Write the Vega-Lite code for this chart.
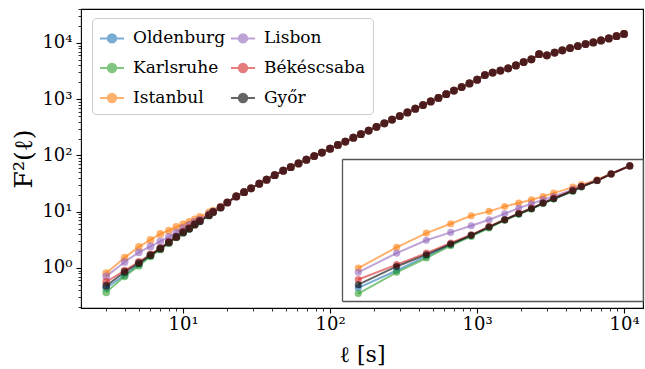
{
  "$schema": "https://vega.github.io/schema/vega-lite/v6.json",
  "width": 562,
  "height": 299,
  "autosize": {"type": "none"},
  "padding": {"left": 81, "top": 9, "right": 2, "bottom": 61},
  "config": {
    "font": "DejaVu Serif",
    "view": {"stroke": "#000", "strokeWidth": 1.1},
    "axis": {"grid": false, "labelColor": "#000", "titleColor": "#000", "tickColor": "#000", "titleFontWeight": "normal", "labelFont": "DejaVu Serif", "titleFont": "DejaVu Serif"}
  },
  "data": {"values": [
    {"l": 3, "Oldenburg": 0.44, "Karlsruhe": 0.37, "Istanbul": 0.81, "Lisbon": 0.71, "Békéscsaba": 0.57, "Győr": 0.485},
    {"l": 4, "Oldenburg": 0.75, "Karlsruhe": 0.71, "Istanbul": 1.53, "Lisbon": 1.28, "Békéscsaba": 0.9, "Győr": 0.85},
    {"l": 5, "Oldenburg": 1.16, "Karlsruhe": 1.1, "Istanbul": 2.37, "Lisbon": 1.9, "Békéscsaba": 1.28, "Győr": 1.22},
    {"l": 6, "Oldenburg": 1.66, "Karlsruhe": 1.61, "Istanbul": 3.16, "Lisbon": 2.42, "Békéscsaba": 1.75, "Győr": 1.69},
    {"l": 7, "Oldenburg": 2.19, "Karlsruhe": 2.14, "Istanbul": 4.04, "Lisbon": 2.97, "Békéscsaba": 2.25, "Győr": 2.21},
    {"l": 8, "Oldenburg": 2.83, "Karlsruhe": 2.77, "Istanbul": 4.62, "Lisbon": 3.57, "Békéscsaba": 2.91, "Győr": 2.85},
    {"l": 9, "Oldenburg": 3.55, "Karlsruhe": 3.52, "Istanbul": 5.38, "Lisbon": 4.29, "Békéscsaba": 3.57, "Győr": 3.57},
    {"l": 10, "Oldenburg": 4.27, "Karlsruhe": 4.24, "Istanbul": 5.96, "Lisbon": 5.11, "Békéscsaba": 4.38, "Győr": 4.29},
    {"l": 11, "Oldenburg": 5.0, "Karlsruhe": 4.97, "Istanbul": 6.6, "Lisbon": 5.84, "Békéscsaba": 5.11, "Győr": 5.0},
    {"l": 12, "Oldenburg": 5.93, "Karlsruhe": 5.9, "Istanbul": 7.31, "Lisbon": 6.6, "Békéscsaba": 5.96, "Győr": 5.96},
    {"l": 13, "Oldenburg": 6.8, "Karlsruhe": 6.75, "Istanbul": 8.1, "Lisbon": 7.3, "Békéscsaba": 6.95, "Győr": 6.81},
    {"l": 15, "Oldenburg": 8.6, "Karlsruhe": 8.6, "Istanbul": 9.74, "Lisbon": 9.1, "Békéscsaba": 8.8, "Győr": 8.7},
    {"l": 16, "Oldenburg": 9.8, "Karlsruhe": 9.75, "Istanbul": 10.5, "Lisbon": 10.1, "Békéscsaba": 9.9, "Győr": 9.9},
    {"l": 18, "Oldenburg": 11.9, "Karlsruhe": 11.85, "Istanbul": 12.2, "Lisbon": 12.0, "Békéscsaba": 11.9, "Győr": 11.9},
    {"l": 20, "Oldenburg": 14.6, "Karlsruhe": 14.6, "Istanbul": 14.7, "Lisbon": 14.7, "Békéscsaba": 14.6, "Győr": 14.6},
    {"l": 23, "Oldenburg": 18.7, "Karlsruhe": 18.7, "Istanbul": 18.7, "Lisbon": 18.7, "Békéscsaba": 18.7, "Győr": 18.7},
    {"l": 26, "Oldenburg": 22.3, "Karlsruhe": 22.3, "Istanbul": 22.3, "Lisbon": 22.3, "Békéscsaba": 22.3, "Győr": 22.3},
    {"l": 29, "Oldenburg": 26.1, "Karlsruhe": 26.1, "Istanbul": 26.1, "Lisbon": 26.1, "Békéscsaba": 26.1, "Győr": 26.1},
    {"l": 33, "Oldenburg": 31.6, "Karlsruhe": 31.6, "Istanbul": 31.6, "Lisbon": 31.6, "Békéscsaba": 31.6, "Győr": 31.6},
    {"l": 37, "Oldenburg": 37.2, "Karlsruhe": 37.2, "Istanbul": 37.2, "Lisbon": 37.2, "Békéscsaba": 37.2, "Győr": 37.2},
    {"l": 42, "Oldenburg": 44.7, "Karlsruhe": 44.7, "Istanbul": 44.7, "Lisbon": 44.7, "Békéscsaba": 44.7, "Győr": 44.7},
    {"l": 48, "Oldenburg": 53.7, "Karlsruhe": 53.7, "Istanbul": 53.7, "Lisbon": 53.7, "Békéscsaba": 53.7, "Győr": 53.7},
    {"l": 54, "Oldenburg": 62.1, "Karlsruhe": 62.1, "Istanbul": 62.1, "Lisbon": 62.1, "Békéscsaba": 62.1, "Győr": 62.1},
    {"l": 61, "Oldenburg": 72.2, "Karlsruhe": 72.2, "Istanbul": 72.2, "Lisbon": 72.2, "Békéscsaba": 72.2, "Győr": 72.2},
    {"l": 69, "Oldenburg": 84.1, "Karlsruhe": 84.1, "Istanbul": 84.1, "Lisbon": 84.1, "Békéscsaba": 84.1, "Győr": 84.1},
    {"l": 78, "Oldenburg": 97.7, "Karlsruhe": 97.7, "Istanbul": 97.7, "Lisbon": 97.7, "Békéscsaba": 97.7, "Győr": 97.7},
    {"l": 88, "Oldenburg": 113, "Karlsruhe": 113, "Istanbul": 113, "Lisbon": 113, "Békéscsaba": 113, "Győr": 113},
    {"l": 100, "Oldenburg": 132, "Karlsruhe": 132, "Istanbul": 132, "Lisbon": 132, "Békéscsaba": 132, "Győr": 132},
    {"l": 113, "Oldenburg": 154, "Karlsruhe": 154, "Istanbul": 154, "Lisbon": 154, "Békéscsaba": 154, "Győr": 154},
    {"l": 127, "Oldenburg": 177, "Karlsruhe": 177, "Istanbul": 177, "Lisbon": 177, "Békéscsaba": 177, "Győr": 177},
    {"l": 144, "Oldenburg": 207, "Karlsruhe": 207, "Istanbul": 207, "Lisbon": 207, "Békéscsaba": 207, "Győr": 207},
    {"l": 162, "Oldenburg": 239, "Karlsruhe": 239, "Istanbul": 239, "Lisbon": 239, "Békéscsaba": 239, "Győr": 239},
    {"l": 183, "Oldenburg": 277, "Karlsruhe": 277, "Istanbul": 277, "Lisbon": 277, "Békéscsaba": 277, "Győr": 277},
    {"l": 207, "Oldenburg": 323, "Karlsruhe": 323, "Istanbul": 323, "Lisbon": 323, "Békéscsaba": 323, "Győr": 323},
    {"l": 234, "Oldenburg": 374, "Karlsruhe": 374, "Istanbul": 374, "Lisbon": 374, "Békéscsaba": 374, "Győr": 374},
    {"l": 264, "Oldenburg": 435, "Karlsruhe": 435, "Istanbul": 435, "Lisbon": 435, "Békéscsaba": 435, "Győr": 435},
    {"l": 298, "Oldenburg": 503, "Karlsruhe": 503, "Istanbul": 503, "Lisbon": 503, "Békéscsaba": 503, "Győr": 503},
    {"l": 336, "Oldenburg": 583, "Karlsruhe": 583, "Istanbul": 583, "Lisbon": 583, "Békéscsaba": 583, "Győr": 583},
    {"l": 380, "Oldenburg": 679, "Karlsruhe": 679, "Istanbul": 679, "Lisbon": 679, "Békéscsaba": 679, "Győr": 679},
    {"l": 429, "Oldenburg": 786, "Karlsruhe": 786, "Istanbul": 786, "Lisbon": 786, "Békéscsaba": 786, "Győr": 786},
    {"l": 484, "Oldenburg": 912, "Karlsruhe": 912, "Istanbul": 912, "Lisbon": 912, "Békéscsaba": 912, "Győr": 912},
    {"l": 546, "Oldenburg": 1057, "Karlsruhe": 1057, "Istanbul": 1057, "Lisbon": 1057, "Békéscsaba": 1057, "Győr": 1057},
    {"l": 617, "Oldenburg": 1227, "Karlsruhe": 1227, "Istanbul": 1227, "Lisbon": 1227, "Békéscsaba": 1227, "Győr": 1227},
    {"l": 696, "Oldenburg": 1425, "Karlsruhe": 1425, "Istanbul": 1425, "Lisbon": 1425, "Békéscsaba": 1425, "Győr": 1425},
    {"l": 786, "Oldenburg": 1648, "Karlsruhe": 1648, "Istanbul": 1648, "Lisbon": 1648, "Békéscsaba": 1648, "Győr": 1648},
    {"l": 888, "Oldenburg": 1914, "Karlsruhe": 1914, "Istanbul": 1914, "Lisbon": 1914, "Békéscsaba": 1914, "Győr": 1914},
    {"l": 1002, "Oldenburg": 2223, "Karlsruhe": 2223, "Istanbul": 2223, "Lisbon": 2223, "Békéscsaba": 2223, "Győr": 2223},
    {"l": 1131, "Oldenburg": 2692, "Karlsruhe": 2692, "Istanbul": 2692, "Lisbon": 2692, "Békéscsaba": 2692, "Győr": 2692},
    {"l": 1277, "Oldenburg": 2985, "Karlsruhe": 2985, "Istanbul": 2985, "Lisbon": 2985, "Békéscsaba": 2985, "Győr": 2985},
    {"l": 1442, "Oldenburg": 3236, "Karlsruhe": 3236, "Istanbul": 3236, "Lisbon": 3236, "Békéscsaba": 3236, "Győr": 3236},
    {"l": 1628, "Oldenburg": 3548, "Karlsruhe": 3548, "Istanbul": 3548, "Lisbon": 3548, "Békéscsaba": 3548, "Győr": 3548},
    {"l": 1838, "Oldenburg": 3981, "Karlsruhe": 3981, "Istanbul": 3981, "Lisbon": 3981, "Békéscsaba": 3981, "Győr": 3981},
    {"l": 2075, "Oldenburg": 4571, "Karlsruhe": 4571, "Istanbul": 4571, "Lisbon": 4571, "Békéscsaba": 4571, "Győr": 4571},
    {"l": 2342, "Oldenburg": 5129, "Karlsruhe": 5129, "Istanbul": 5129, "Lisbon": 5129, "Békéscsaba": 5129, "Győr": 5129},
    {"l": 2644, "Oldenburg": 6310, "Karlsruhe": 6310, "Istanbul": 6310, "Lisbon": 6310, "Békéscsaba": 6310, "Győr": 6310},
    {"l": 2985, "Oldenburg": 6026, "Karlsruhe": 6026, "Istanbul": 6026, "Lisbon": 6026, "Békéscsaba": 6026, "Győr": 6026},
    {"l": 3370, "Oldenburg": 6761, "Karlsruhe": 6761, "Istanbul": 6761, "Lisbon": 6761, "Békéscsaba": 6761, "Győr": 6761},
    {"l": 3805, "Oldenburg": 7413, "Karlsruhe": 7413, "Istanbul": 7413, "Lisbon": 7413, "Békéscsaba": 7413, "Győr": 7413},
    {"l": 4295, "Oldenburg": 8128, "Karlsruhe": 8128, "Istanbul": 8128, "Lisbon": 8128, "Békéscsaba": 8128, "Győr": 8128},
    {"l": 4849, "Oldenburg": 8810, "Karlsruhe": 8810, "Istanbul": 8810, "Lisbon": 8810, "Békéscsaba": 8810, "Győr": 8810},
    {"l": 5474, "Oldenburg": 9550, "Karlsruhe": 9550, "Istanbul": 9550, "Lisbon": 9550, "Békéscsaba": 9550, "Győr": 9550},
    {"l": 6180, "Oldenburg": 10233, "Karlsruhe": 10233, "Istanbul": 10233, "Lisbon": 10233, "Békéscsaba": 10233, "Győr": 10233},
    {"l": 6977, "Oldenburg": 11092, "Karlsruhe": 11092, "Istanbul": 11092, "Lisbon": 11092, "Békéscsaba": 11092, "Győr": 11092},
    {"l": 7876, "Oldenburg": 12023, "Karlsruhe": 12023, "Istanbul": 12023, "Lisbon": 12023, "Békéscsaba": 12023, "Győr": 12023},
    {"l": 8892, "Oldenburg": 13183, "Karlsruhe": 13183, "Istanbul": 13183, "Lisbon": 13183, "Békéscsaba": 13183, "Győr": 13183},
    {"l": 10000, "Oldenburg": 14454, "Karlsruhe": 14454, "Istanbul": 14454, "Lisbon": 14454, "Békéscsaba": 14454, "Győr": 14454}
  ]},
  "transform": [
    {"fold": ["Oldenburg", "Karlsruhe", "Istanbul", "Lisbon", "Békéscsaba", "Győr"], "as": ["series", "F"]}
  ],
  "layer": [
    {
      "encoding": {
        "x": {
          "field": "l", "type": "quantitative",
          "scale": {"type": "log", "domain": [2.02, 13460], "nice": false},
          "axis": {
            "orient": "bottom", "domain": false,
            "values": [3,4,5,6,7,8,9,10,20,30,40,50,60,70,80,90,100,200,300,400,500,600,700,800,900,1000,2000,3000,4000,5000,6000,7000,8000,9000,10000],
            "labelExpr": "datum.value == 10 ? '10¹' : datum.value == 100 ? '10²' : datum.value == 1000 ? '10³' : datum.value == 10000 ? '10⁴' : ''",
            "tickSize": {"condition": {"test": "indexof([1,10,100,1000,10000], datum.value) >= 0", "value": 5}, "value": 3},
            "tickWidth": {"condition": {"test": "indexof([1,10,100,1000,10000], datum.value) >= 0", "value": 1.1}, "value": 0.8},
            "labelFontSize": 18, "labelPadding": 2, "labelFlush": false,
            "title": "ℓ [s]", "titleFontSize": 22, "titlePadding": 11
          }
        },
        "y": {
          "field": "F", "type": "quantitative",
          "scale": {"type": "log", "domain": [0.1945, 40200], "nice": false},
          "axis": {
            "orient": "left", "domain": false,
            "values": [0.2,0.3,0.4,0.5,0.6,0.7,0.8,0.9,1,2,3,4,5,6,7,8,9,10,20,30,40,50,60,70,80,90,100,200,300,400,500,600,700,800,900,1000,2000,3000,4000,5000,6000,7000,8000,9000,10000,20000,30000,40000],
            "labelExpr": "datum.value == 1 ? '10⁰' : datum.value == 10 ? '10¹' : datum.value == 100 ? '10²' : datum.value == 1000 ? '10³' : datum.value == 10000 ? '10⁴' : ''",
            "tickSize": {"condition": {"test": "indexof([1,10,100,1000,10000], datum.value) >= 0", "value": 5}, "value": 3},
            "tickWidth": {"condition": {"test": "indexof([1,10,100,1000,10000], datum.value) >= 0", "value": 1.1}, "value": 0.8},
            "labelFontSize": 18, "labelPadding": 4, "labelFlush": false,
            "title": "F²(ℓ)", "titleFontSize": 25, "titlePadding": 5
          }
        },
        "color": {
          "field": "series", "type": "nominal",
          "scale": {"domain": ["Oldenburg", "Karlsruhe", "Istanbul", "Lisbon", "Békéscsaba", "Győr"], "range": ["#1f77b4", "#2ca02c", "#ff7f0e", "#9467bd", "#d62728", "#000000"]},
          "legend": {
            "orient": "none", "legendX": 11, "legendY": 9, "columns": 2, "title": null,
            "values": ["Oldenburg", "Karlsruhe", "Istanbul", "Lisbon", "Békéscsaba", "Győr"],
            "symbolType": "M-1,0H1M0.35,0A0.35,0.35,0,1,1,-0.35,0A0.35,0.35,0,1,1,0.35,0Z",
            "symbolSize": 576, "symbolStrokeWidth": 2,
            "labelFont": "DejaVu Serif", "labelFontSize": 17, "labelColor": "#000", "labelOffset": 8,
            "padding": 7, "rowPadding": 8, "columnPadding": 1,
            "strokeColor": "#cccccc", "fillColor": "rgba(255,255,255,0.8)", "cornerRadius": 4,
            "encode": {"symbols": {"update": {
              "fill": {"scale": "color", "field": "value"},
              "stroke": {"scale": "color", "field": "value"},
              "opacity": {"value": 0.6},
              "strokeWidth": {"value": 2}
            }}}
          }
        }
      },
      "layer": [
        {"mark": {"type": "line", "strokeWidth": 2, "opacity": 0.6}},
        {"mark": {"type": "point", "filled": true, "size": 60, "opacity": 0.6, "strokeWidth": 0}}
      ]
    },
    {
      "transform": [{"filter": "datum.l <= 23"}],
      "layer": [
        {
          "mark": {"type": "line", "strokeWidth": 2, "opacity": 0.6},
          "encoding": {
            "x": {"field": "l", "type": "quantitative",
              "scale": {"type": "log", "domain": [2.655, 25.4], "range": [261, 562], "nice": false},
              "axis": {"orient": "bottom", "offset": -7, "labels": false, "ticks": false, "title": null, "domain": true, "domainColor": "#555", "domainWidth": 1.3, "values": []}},
            "y": {"field": "F", "type": "quantitative",
              "scale": {"type": "log", "domain": [0.294, 23.1], "range": [292, 150], "nice": false},
              "axis": {"orient": "left", "offset": -261, "labels": false, "ticks": false, "title": null, "domain": true, "domainColor": "#555", "domainWidth": 1.3, "values": []}},
            "color": {"field": "series", "type": "nominal", "legend": null}
          }
        },
        {
          "mark": {"type": "point", "filled": true, "size": 50, "opacity": 0.6, "strokeWidth": 0},
          "encoding": {
            "x": {"field": "l", "type": "quantitative",
              "scale": {"type": "log", "domain": [2.655, 25.4], "range": [261, 562], "nice": false},
              "axis": {"orient": "top", "offset": -150, "labels": false, "ticks": false, "title": null, "domain": true, "domainColor": "#555", "domainWidth": 1.3, "values": []}},
            "y": {"field": "F", "type": "quantitative",
              "scale": {"type": "log", "domain": [0.294, 23.1], "range": [292, 150], "nice": false},
              "axis": {"orient": "right", "offset": 0, "labels": false, "ticks": false, "title": null, "domain": true, "domainColor": "#555", "domainWidth": 1.3, "values": []}},
            "color": {"field": "series", "type": "nominal", "legend": null}
          }
        }
      ],
      "resolve": {"axis": {"x": "independent", "y": "independent"}}
    }
  ],
  "resolve": {"scale": {"x": "independent", "y": "independent"}, "axis": {"x": "independent", "y": "independent"}}
}
